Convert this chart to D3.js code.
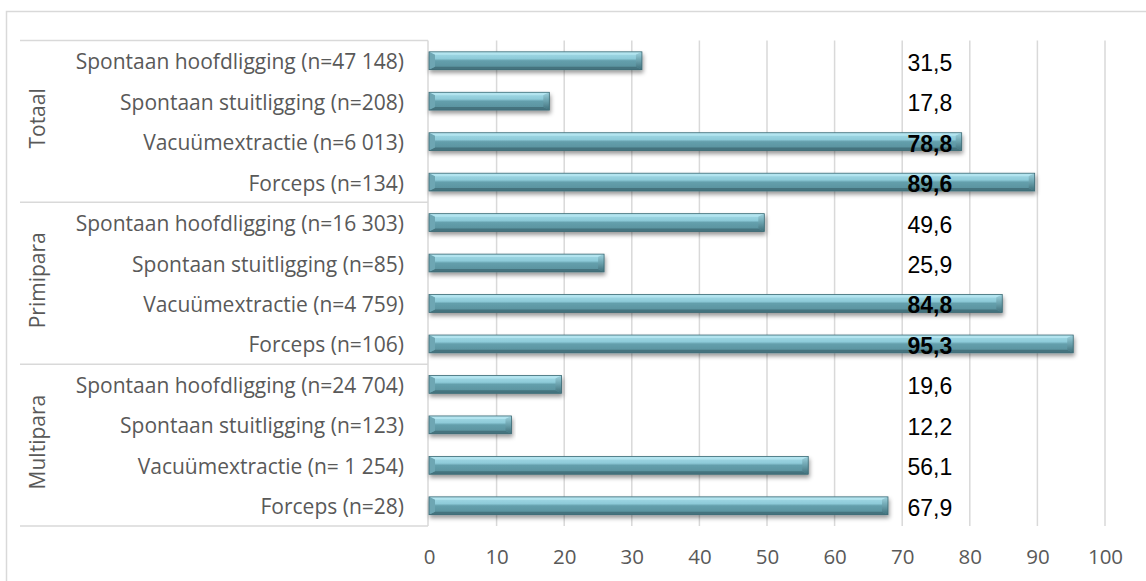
<!DOCTYPE html>
<html>
<head>
<meta charset="utf-8">
<script src="https://cdn.jsdelivr.net/npm/d3@7"></script>
<style>
  html, body { margin: 0; padding: 0; background: #fff; }
  svg { display: block; }
</style>
</head>
<body>
<svg id="chart" width="1146" height="581"></svg>
<script>
// Groups, categories and percentages
const groups = ["Totaal", "Primipara", "Multipara"];
const categories = [
  ["Spontaan hoofdligging (n=47 148)", "Spontaan stuitligging (n=208)", "Vacuümextractie (n=6 013)", "Forceps (n=134)"],
  ["Spontaan hoofdligging (n=16 303)", "Spontaan stuitligging (n=85)", "Vacuümextractie (n=4 759)", "Forceps (n=106)"],
  ["Spontaan hoofdligging (n=24 704)", "Spontaan stuitligging (n=123)", "Vacuümextractie (n= 1 254)", "Forceps (n=28)"]
];
const totaalValues = [31.5, 17.8, 78.8, 89.6];
const primiparaValues = [49.6, 25.9, 84.8, 95.3];
const multiparaValues = [19.6, 12.2, 56.1, 67.9];
const xTicks = [0, 10, 20, 30, 40, 50, 60, 70, 80, 90, 100];

const groupValues = [totaalValues, primiparaValues, multiparaValues];
const rows = [];
groups.forEach((g, gi) => {
  categories[gi].forEach((c, ci) => {
    rows.push({ key: g + "|" + c, group: g, gi, label: c, value: groupValues[gi][ci] });
  });
});

const svg = d3.select("#chart");
const W = 1146, H = 581;
const labelFont = "'Open Sans', Lato, sans-serif";

const x = d3.scaleLinear().domain([0, 100]).range([429, 1105]);
const y = d3.scaleBand()
  .domain(rows.map(r => r.key))
  .range([40.5, 526])
  .paddingInner(0.56)
  .paddingOuter(0.28);

const defs = svg.append("defs");
const face = defs.append("linearGradient").attr("id", "face")
  .attr("x1", 0).attr("y1", 0).attr("x2", 0).attr("y2", 1);
[[0, "#a6dce8"], [0.38, "#8ecbd9"], [0.5, "#649fac"], [1, "#578f9b"]]
  .forEach(([o, c]) => face.append("stop").attr("offset", o).attr("stop-color", c));
const endG = defs.append("linearGradient").attr("id", "endcap")
  .attr("x1", 0).attr("y1", 0).attr("x2", 0).attr("y2", 1);
[[0, "#9fd3df"], [0.45, "#6fa6b2"], [1, "#3f6f7a"]]
  .forEach(([o, c]) => endG.append("stop").attr("offset", o).attr("stop-color", c));
const shadow = defs.append("filter").attr("id", "shadow")
  .attr("x", "-5%").attr("y", "-50%").attr("width", "110%").attr("height", "220%");
shadow.append("feDropShadow").attr("dx", 1).attr("dy", 3)
  .attr("stdDeviation", 2).attr("flood-color", "#000").attr("flood-opacity", 0.4);

// Outer chart border
svg.append("rect")
  .attr("x", 6.5).attr("y", 11.5).attr("width", W + 20).attr("height", H + 20)
  .attr("fill", "none").attr("stroke", "#d9d9d9").attr("stroke-width", 1.5);

// Vertical gridlines
svg.append("g").selectAll("line").data(xTicks.slice(1)).join("line")
  .attr("x1", d => x(d)).attr("x2", d => x(d))
  .attr("y1", 40.5).attr("y2", 526)
  .attr("stroke", "#d9d9d9").attr("stroke-width", 1.5);

// X axis tick labels
const xAxis = d3.axisBottom(x).tickValues(xTicks).tickSize(0).tickPadding(0).tickFormat(d3.format("d"));
const gx = svg.append("g").attr("transform", "translate(0,564)").call(xAxis);
gx.select(".domain").remove();
gx.selectAll("text")
  .attr("dy", 0).attr("y", 0)
  .attr("font-family", labelFont)
  .attr("font-size", 20.5).attr("fill", "#595959");

// Category axis: group separators and vertical axis line
const groupEnds = groups.map((g, gi) => {
  const last = rows.filter(r => r.gi === gi).pop();
  return y(last.key) + y.bandwidth() + (y.step() - y.bandwidth()) / 2;
});
const sepY = [40.5].concat(groupEnds);
svg.append("g").selectAll("line").data(sepY).join("line")
  .attr("x1", 20).attr("x2", 428)
  .attr("y1", d => d).attr("y2", d => d)
  .attr("stroke", "#d9d9d9").attr("stroke-width", 1.5);
svg.append("line")
  .attr("x1", 428).attr("x2", 428).attr("y1", 40.5).attr("y2", 526)
  .attr("stroke", "#d9d9d9").attr("stroke-width", 1.5);

// Category labels
svg.append("g").selectAll("text").data(rows).join("text")
  .attr("x", 404)
  .attr("y", d => y(d.key) + y.bandwidth() / 2 + 8.5)
  .attr("text-anchor", "end")
  .attr("font-family", labelFont)
  .attr("font-size", 21)
  .attr("fill", "#595959")
  .text(d => d.label);

// Group labels (rotated)
svg.append("g").selectAll("text").data(groups).join("text")
  .attr("transform", (g, gi) => {
    const cy = (sepY[gi] + sepY[gi + 1]) / 2 - 3;
    return `translate(45,${cy}) rotate(-90)`;
  })
  .attr("text-anchor", "middle")
  .attr("font-family", labelFont)
  .attr("font-size", 21)
  .attr("fill", "#595959")
  .text(g => g);

// Bevelled bars
const bev = 6, bevY = 3;
const bars = svg.append("g").selectAll("g").data(rows).join("g")
  .attr("filter", "url(#shadow)");
bars.each(function (d) {
  const g = d3.select(this);
  const x0 = x(0), x1 = x(d.value);
  const y0 = y(d.key), y1 = y0 + y.bandwidth();
  g.append("rect").attr("x", x0).attr("y", y0).attr("width", x1 - x0).attr("height", y1 - y0)
    .attr("fill", "url(#face)");
  // top bevel strip
  g.append("polygon").attr("points", [[x0, y0], [x1, y0], [x1 - bev, y0 + bevY], [x0 + bev, y0 + bevY]].join(" "))
    .attr("fill", "#b3e4ef");
  // bottom bevel strip
  g.append("polygon").attr("points", [[x0, y1], [x1, y1], [x1 - bev, y1 - bevY], [x0 + bev, y1 - bevY]].join(" "))
    .attr("fill", "#44737e");
  // left bevel
  g.append("polygon").attr("points", [[x0, y0], [x0 + bev, y0 + bevY], [x0 + bev, y1 - bevY], [x0, y1]].join(" "))
    .attr("fill", "#6ea6b3");
  // right end bevel
  g.append("polygon").attr("points", [[x1, y0], [x1, y1], [x1 - bev, y1 - bevY], [x1 - bev, y0 + bevY]].join(" "))
    .attr("fill", "url(#endcap)");
  g.append("rect").attr("x", x0).attr("y", y0).attr("width", x1 - x0).attr("height", y1 - y0)
    .attr("fill", "none").attr("stroke", "#3d6a74").attr("stroke-width", 0.8);
});

// Value labels, set in a column between the 70 and 80 gridlines
const labelAt = 74.1;
const fmt = v => d3.format(".1f")(v).replace(".", ",");
svg.append("g").selectAll("text").data(rows).join("text")
  .attr("x", x(labelAt))
  .attr("y", d => y(d.key) + y.bandwidth() / 2 + 10)
  .attr("text-anchor", "middle")
  .attr("font-family", "'Liberation Sans', Arial, sans-serif")
  .attr("font-size", 23)
  .attr("font-weight", d => d.value > labelAt ? "bold" : "normal")
  .attr("fill", "#000")
  .text(d => fmt(d.value));
</script>
</body>
</html>
